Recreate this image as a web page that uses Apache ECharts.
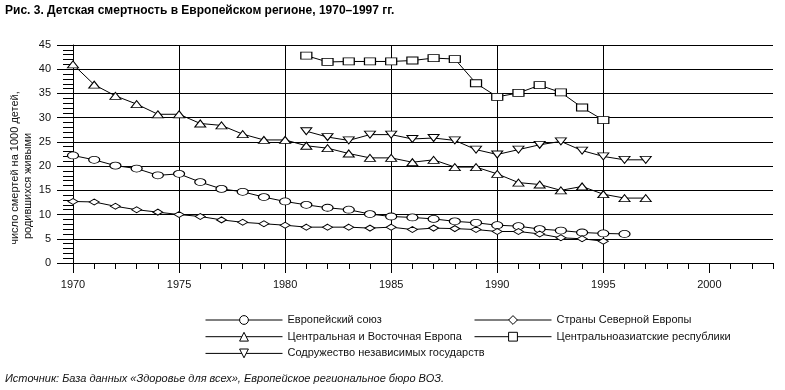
<!DOCTYPE html>
<html><head><meta charset="utf-8">
<script src="https://cdn.jsdelivr.net/npm/echarts@6/dist/echarts.min.js"></script>
<style>html,body{margin:0;padding:0;background:#fff}#c{width:785px;height:390px}</style>
</head><body><div id="c"></div>
<script>
const titleText = 'Рис. 3. Детская смертность в Европейском регионе, 1970–1997 гг.';
const yNameLine1 = 'число смертей на 1000 детей,';
const yNameLine2 = 'родившихся живыми';
const sourceText = 'Источник: База данных «Здоровье для всех», Европейское региональное бюро ВОЗ.';

const xMin = 1970, xMax = 2003;
const xMajorTicks = [1970, 1975, 1980, 1985, 1990, 1995, 2000];
const yMin = 0, yMax = 45, yStep = 5;

const seriesNames = ['Европейский союз', 'Центральная и Восточная Европа', 'Содружество независимых государств', 'Страны Северной Европы', 'Центральноазиатские республики'];

const yearsEU = [1970,1971,1972,1973,1974,1975,1976,1977,1978,1979,1980,1981,1982,1983,1984,1985,1986,1987,1988,1989,1990,1991,1992,1993,1994,1995,1996];
const valuesEU = [22.2,21.3,20.1,19.5,18.1,18.4,16.7,15.3,14.7,13.6,12.7,12.0,11.4,11.0,10.1,9.6,9.4,9.1,8.6,8.3,7.8,7.6,7.0,6.7,6.3,6.1,6.0];

const yearsNordic = [1970,1971,1972,1973,1974,1975,1976,1977,1978,1979,1980,1981,1982,1983,1984,1985,1986,1987,1988,1989,1990,1991,1992,1993,1994,1995];
const valuesNordic = [12.7,12.6,11.7,11.0,10.5,10.0,9.6,8.9,8.4,8.1,7.8,7.4,7.4,7.4,7.2,7.4,6.9,7.2,7.1,6.9,6.5,6.5,6.0,5.2,5.0,4.5];

const yearsCEE = [1970,1971,1972,1973,1974,1975,1976,1977,1978,1979,1980,1981,1982,1983,1984,1985,1986,1987,1988,1989,1990,1991,1992,1993,1994,1995,1996,1997];
const valuesCEE = [41.0,36.8,34.5,32.8,30.7,30.7,28.8,28.4,26.6,25.4,25.4,24.2,23.7,22.6,21.7,21.7,20.8,21.3,19.8,19.8,18.4,16.6,16.2,15.0,15.8,14.2,13.4,13.4];

const yearsCIS = [1981,1982,1983,1984,1985,1986,1987,1988,1989,1990,1991,1992,1993,1994,1995,1996,1997];
const valuesCIS = [27.2,26.0,25.3,26.5,26.5,25.6,25.8,25.3,23.4,22.4,23.4,24.4,25.1,23.2,22.0,21.3,21.3];

const yearsCA = [1981,1982,1983,1984,1985,1986,1987,1988,1989,1990,1991,1992,1993,1994,1995];
const valuesCA = [42.8,41.5,41.6,41.6,41.6,41.8,42.3,42.1,37.1,34.3,35.1,36.7,35.2,32.1,29.5];

const FONT = "'Liberation Sans', Arial, sans-serif";
const TXT = '#111';
const ellipsePath = 'path://M0,5A5,5 0 1,1 10,5A5,5 0 1,1 0,5Z';

function pairs(xs, ys) { return xs.map((x, i) => [x, ys[i]]); }

function mkSeries(name, xs, ys, symbol, size, rotate) {
  return {
    type: 'line', name: name, data: pairs(xs, ys),
    xAxisIndex: 0, yAxisIndex: 0,
    symbol: symbol, symbolSize: size, symbolRotate: rotate || 0,
    showAllSymbol: true, animation: false,
    lineStyle: { color: '#000', width: 1 },
    itemStyle: { color: '#fff', borderColor: '#000', borderWidth: 1 },
    emphasis: { disabled: true }
  };
}

const legendCommon = {
  orient: 'vertical', top: 313, itemWidth: 77, itemHeight: 11, itemGap: 2.7,
  selectedMode: false, padding: 0,
  lineStyle: { color: '#000', width: 1 },
  itemStyle: { color: '#fff', borderColor: '#000', borderWidth: 1 },
  textStyle: { color: TXT, fontSize: 11, fontFamily: FONT, lineHeight: 14 }
};

const chart = echarts.init(document.getElementById('c'), null, { renderer: 'canvas' });
const gridPos = { left: 73, right: 12, top: 45, bottom: 127 };

chart.setOption({
  animation: false,
  backgroundColor: '#fff',
  textStyle: { fontFamily: FONT },
  grid: [ Object.assign({ containLabel: false }, gridPos) ],
  xAxis: [
    {
      type: 'value', min: xMin, max: xMax, interval: 5, gridIndex: 0, position: 'bottom',
      axisLine: { show: true, onZero: false, lineStyle: { color: '#000', width: 1 } },
      axisTick: { show: true, length: 10, customValues: xMajorTicks, lineStyle: { color: '#000' } },
      axisLabel: { show: true, customValues: xMajorTicks, margin: 16, color: TXT, fontSize: 11, fontFamily: FONT, formatter: v => String(v) },
      splitLine: { show: true, showMaxLine: false, lineStyle: { color: '#000', width: 1 } },
      minorTick: { show: false }
    },
    {
      type: 'value', min: xMin, max: xMax, interval: 1, gridIndex: 0, position: 'bottom',
      axisLine: { show: false },
      axisTick: { show: true, length: 6, lineStyle: { color: '#000' } },
      axisLabel: { show: false },
      splitLine: { show: false }
    }
  ],
  yAxis: [{
    type: 'value', min: yMin, max: yMax, interval: yStep, gridIndex: 0,
    axisLine: { show: true, onZero: false, lineStyle: { color: '#000', width: 1 } },
    axisTick: { show: true, length: 16, lineStyle: { color: '#000' } },
    minorTick: { show: true, splitNumber: 5, length: 10, lineStyle: { color: '#000' } },
    axisLabel: { margin: 22, color: TXT, fontSize: 11, fontFamily: FONT },
    splitLine: { show: true, lineStyle: { color: '#000', width: 1 } }
  }],
  legend: [
    Object.assign({ data: [seriesNames[0], seriesNames[1], seriesNames[2]], left: 205 }, legendCommon),
    Object.assign({ data: [seriesNames[3], seriesNames[4]], left: 474 }, legendCommon)
  ],
  series: [
    mkSeries(seriesNames[0], yearsEU, valuesEU, ellipsePath, [11, 7]),
    mkSeries(seriesNames[1], yearsCEE, valuesCEE, 'triangle', [11, 7]),
    mkSeries(seriesNames[2], yearsCIS, valuesCIS, 'triangle', [11, 7], 180),
    mkSeries(seriesNames[3], yearsNordic, valuesNordic, 'diamond', [10, 6]),
    mkSeries(seriesNames[4], yearsCA, valuesCA, 'rect', [11, 7])
  ],
  graphic: [
    { type: 'text', left: 5, top: 5, style: { text: titleText, font: "bold 12px " + FONT, fill: '#000' } },
    { type: 'text', left: 5, top: 373, style: { text: sourceText, font: "italic 11px " + FONT, fill: TXT } },
    { type: 'text', x: 15, y: 168, rotation: Math.PI / 2, style: { text: yNameLine1, font: "11px " + FONT, fill: TXT, align: 'center', verticalAlign: 'middle' } },
    { type: 'text', x: 28, y: 186, rotation: Math.PI / 2, style: { text: yNameLine2, font: "11px " + FONT, fill: TXT, align: 'center', verticalAlign: 'middle' } }
  ]
});
</script></body></html>
